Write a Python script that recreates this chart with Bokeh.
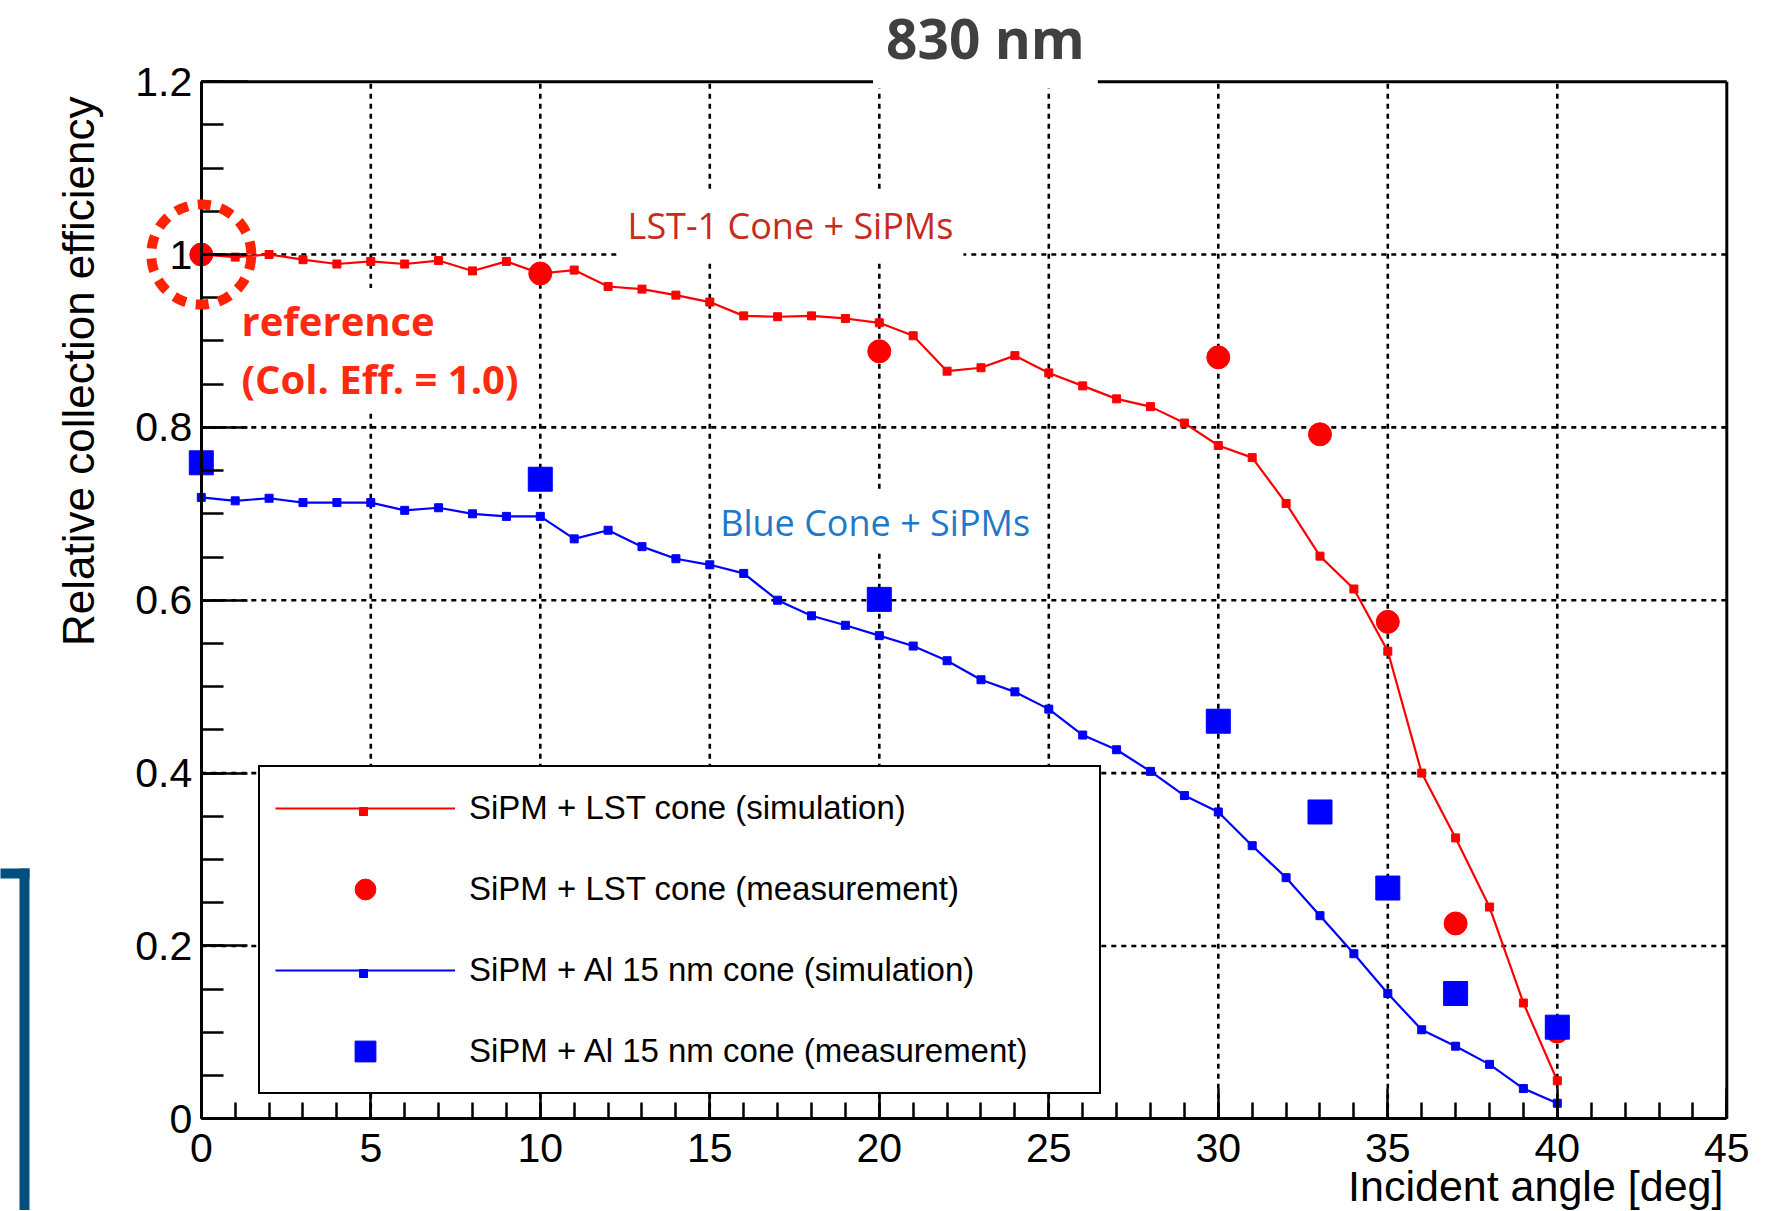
import numpy as np
from bokeh.plotting import figure
from bokeh.models import (Range1d, FixedTicker, Label, Legend, LegendItem,
                          PolyAnnotation, ColumnDataSource)
from bokeh.embed import file_html
from bokeh.resources import INLINE

# ---------------- data ----------------
sim_angles = list(range(0, 41))
lst_sim = [1.000, 0.997, 1.000, 0.994, 0.989, 0.992, 0.989, 0.993, 0.981, 0.992,
           0.978, 0.982, 0.963, 0.960, 0.953, 0.945, 0.929, 0.928, 0.929, 0.926,
           0.921, 0.906, 0.865, 0.869, 0.883, 0.863, 0.848, 0.833, 0.824, 0.805,
           0.779, 0.765, 0.712, 0.651, 0.613, 0.541, 0.400, 0.325, 0.245, 0.134, 0.044]
al_sim = [0.719, 0.715, 0.718, 0.713, 0.713, 0.713, 0.704, 0.707, 0.700, 0.697,
          0.697, 0.671, 0.681, 0.662, 0.648, 0.641, 0.631, 0.600, 0.582, 0.571,
          0.559, 0.547, 0.530, 0.508, 0.494, 0.474, 0.444, 0.427, 0.402, 0.374,
          0.355, 0.316, 0.279, 0.235, 0.191, 0.145, 0.103, 0.084, 0.063, 0.035, 0.018]
meas_angles = [0, 10, 20, 30, 33, 35, 37, 40]
lst_meas = [1.000, 0.978, 0.888, 0.881, 0.792, 0.575, 0.226, 0.101]
al_meas = [0.759, 0.740, 0.601, 0.460, 0.355, 0.267, 0.145, 0.106]

x_major = [0, 5, 10, 15, 20, 25, 30, 35, 40, 45]
x_minor = list(range(0, 46))
y_major = [0, 0.2, 0.4, 0.6, 0.8, 1.0, 1.2]
y_major_labels = ["0", "0.2", "0.4", "0.6", "0.8", "1", "1.2"]
y_minor = [round(i * 0.05, 2) for i in range(0, 25)]
x_lim = (0, 45)
y_lim = (0, 1.2)

series_labels = ["SiPM + LST cone (simulation)", "SiPM + LST cone (measurement)",
                 "SiPM + Al 15 nm cone (simulation)", "SiPM + Al 15 nm cone (measurement)"]

RED = "#ff0000"
BLUE = "#0000ff"
FONT = "Liberation Sans"

# ---------------- figure (frame fills the whole canvas; axes sit at fixed data locations) ----
W, H = 1768, 1210
p = figure(width=W, height=H, output_backend="svg", toolbar_location=None,
           x_range=Range1d(-5.923, 46.230), y_range=Range1d(-0.1061, 1.2939),
           min_border_left=0, min_border_right=0, min_border_top=0, min_border_bottom=0)
p.title.visible = False
p.outline_line_color = None
p.background_fill_color = "white"
p.border_fill_color = "white"
p.xgrid.visible = False
p.ygrid.visible = False

# axes
p.xaxis.ticker = FixedTicker(ticks=x_major, minor_ticks=x_minor)
p.yaxis.ticker = FixedTicker(ticks=y_major, minor_ticks=y_minor)
p.xaxis.fixed_location = y_lim[0]
p.yaxis.fixed_location = x_lim[0]
p.xaxis.bounds = x_lim
p.yaxis.bounds = y_lim
p.yaxis.major_label_overrides = {v: t for v, t in zip(y_major, y_major_labels)}
for ax in (p.xaxis[0], p.yaxis[0]):
    ax.axis_line_width = 3
    ax.axis_line_color = "black"
    ax.major_tick_out = 0
    ax.minor_tick_out = 0
    ax.major_tick_line_width = 2.5
    ax.minor_tick_line_width = 2.5
    ax.major_tick_line_color = "black"
    ax.minor_tick_line_color = "black"
    ax.major_label_text_font = FONT
    ax.major_label_text_font_size = "41px"
    ax.major_label_text_color = "black"
p.xaxis.major_tick_in = 30
p.xaxis.minor_tick_in = 16
p.yaxis.major_tick_in = 46
p.yaxis.minor_tick_in = 22
p.xaxis.major_label_standoff = 15
p.yaxis.major_label_standoff = 9

# dotted grid, drawn from the major tick lists
vgrid = ColumnDataSource(dict(x=x_major[1:-1], y0=[y_lim[0]] * (len(x_major) - 2),
                              y1=[y_lim[1]] * (len(x_major) - 2)))
hgrid = ColumnDataSource(dict(y=y_major[1:-1], x0=[x_lim[0]] * (len(y_major) - 2),
                              x1=[x_lim[1]] * (len(y_major) - 2)))
p.segment(x0="x", x1="x", y0="y0", y1="y1", source=vgrid, line_color="black",
          line_dash="5 5", line_width=2.6, level="underlay")
p.segment(x0="x0", x1="x1", y0="y", y1="y", source=hgrid, line_color="black",
          line_dash="5 5", line_width=2.6, level="underlay")

# frame top / right borders
border = ColumnDataSource(dict(x0=[x_lim[0], x_lim[1]], y0=[y_lim[1], y_lim[0]],
                               x1=[x_lim[1], x_lim[1]], y1=[y_lim[1], y_lim[1]]))
p.segment(x0="x0", y0="y0", x1="x1", y1="y1", source=border, line_color="black",
          line_width=3, level="underlay")

# ---------------- data renderers ----------------
r_lst_line = p.line(sim_angles, lst_sim, line_color=RED, line_width=2.2)
r_lst_sq = p.scatter(sim_angles, lst_sim, marker="square", size=8, color=RED)
r_al_line = p.line(sim_angles, al_sim, line_color=BLUE, line_width=2.2)
r_al_sq = p.scatter(sim_angles, al_sim, marker="square", size=8, color=BLUE)
r_lst_meas = p.scatter(meas_angles, lst_meas, marker="circle", size=23, color=RED)
r_al_meas = p.scatter(meas_angles, al_meas, marker="square", size=24, color=BLUE)

legend = Legend(items=[
    LegendItem(label=series_labels[0], renderers=[r_lst_line]),
    LegendItem(label=series_labels[1], renderers=[r_lst_meas]),
    LegendItem(label=series_labels[2], renderers=[r_al_line]),
    LegendItem(label=series_labels[3], renderers=[r_al_meas]),
], location=(258, 116), padding=15, spacing=29, glyph_height=52, glyph_width=180,
    label_standoff=14, label_width=615, label_height=52, margin=0,
    label_text_font=FONT, label_text_font_size="33px", label_text_color="black",
    border_line_color="black", border_line_width=2, border_line_alpha=1,
    background_fill_color="white", background_fill_alpha=1)
p.add_layout(legend)

# small markers on the simulation legend lines
for rend, loc in ((r_lst_sq, (273, 389)), (r_al_sq, (273, 227))):
    p.add_layout(Legend(items=[LegendItem(label=" ", renderers=[rend])], location=loc,
                        padding=0, spacing=0, glyph_height=20, glyph_width=180,
                        label_height=20, label_width=1, label_standoff=0, margin=0,
                        label_text_font_size="2px", border_line_color=None,
                        background_fill_alpha=0))

# ---------------- annotations ----------------
p.add_layout(Label(x=12.28, y=1.0334, text="LST-1 Cone + SiPMs", text_font="Open Sans",
                   text_font_size="36px", text_color="#c82a1e", text_baseline="middle",
                   background_fill_color="white", padding=10))
p.add_layout(Label(x=15.13, y=0.6899, text="Blue Cone + SiPMs", text_font="Open Sans",
                   text_font_size="36px", text_color="#1f78c8", text_baseline="middle",
                   background_fill_color="white", padding=6))
p.add_layout(Label(x=1.04, y=0.9236, text="reference", text_font="Open Sans",
                   text_font_style="bold", text_font_size="40px", text_color="#ff2a10",
                   text_baseline="middle", background_fill_color="white", padding=5))
p.add_layout(Label(x=1.04, y=0.8565, text="(Col. Eff. = 1.0)", text_font="Open Sans",
                   text_font_style="bold", text_font_size="40px", text_color="#ff2a10",
                   text_baseline="middle", background_fill_color="white", padding=5))

# dashed ring around the reference point
theta = np.linspace(0, 2 * np.pi, 97)[:-1]
rx, ry = 50 / 33.9, 50 / 864.3
p.add_layout(PolyAnnotation(xs=list(0 + rx * np.cos(theta)), ys=list(1.0 + ry * np.sin(theta)),
                            fill_alpha=0, line_color="#ff2200", line_alpha=1,
                            line_width=10, line_dash="13 10"))

# title with white box breaking the frame
p.add_layout(Label(x=23.13, y=1.2506, text="830 nm", text_font="Open Sans",
                   text_font_style="bold", text_font_size="55px", text_color="#404040",
                   text_align="center", text_baseline="middle",
                   background_fill_color="white", padding=13))

# axis titles
p.add_layout(Label(x=-3.622, y=1.1828, angle=np.pi / 2,
                   text="Relative collection efficiency", text_font=FONT,
                   text_font_size="44px", text_color="black", text_align="right",
                   text_baseline="middle"))
p.add_layout(Label(x=44.90, y=-0.0772, text="Incident angle [deg]",
                   text_font=FONT, text_font_size="43px", text_color="black",
                   text_align="right", text_baseline="middle"))

# slide-edge decoration at the left
p.add_layout(PolyAnnotation(xs=[-5.95, -5.068, -5.068, -5.95], ys=[0.2896, 0.2896, 0.2781, 0.2781],
                            fill_color="#004f7f", fill_alpha=1, line_alpha=0))
p.add_layout(PolyAnnotation(xs=[-5.363, -5.068, -5.068, -5.363], ys=[0.2896, 0.2896, -0.12, -0.12],
                            fill_color="#004f7f", fill_alpha=1, line_alpha=0))

open("out.html", "w").write(file_html(p, INLINE))
